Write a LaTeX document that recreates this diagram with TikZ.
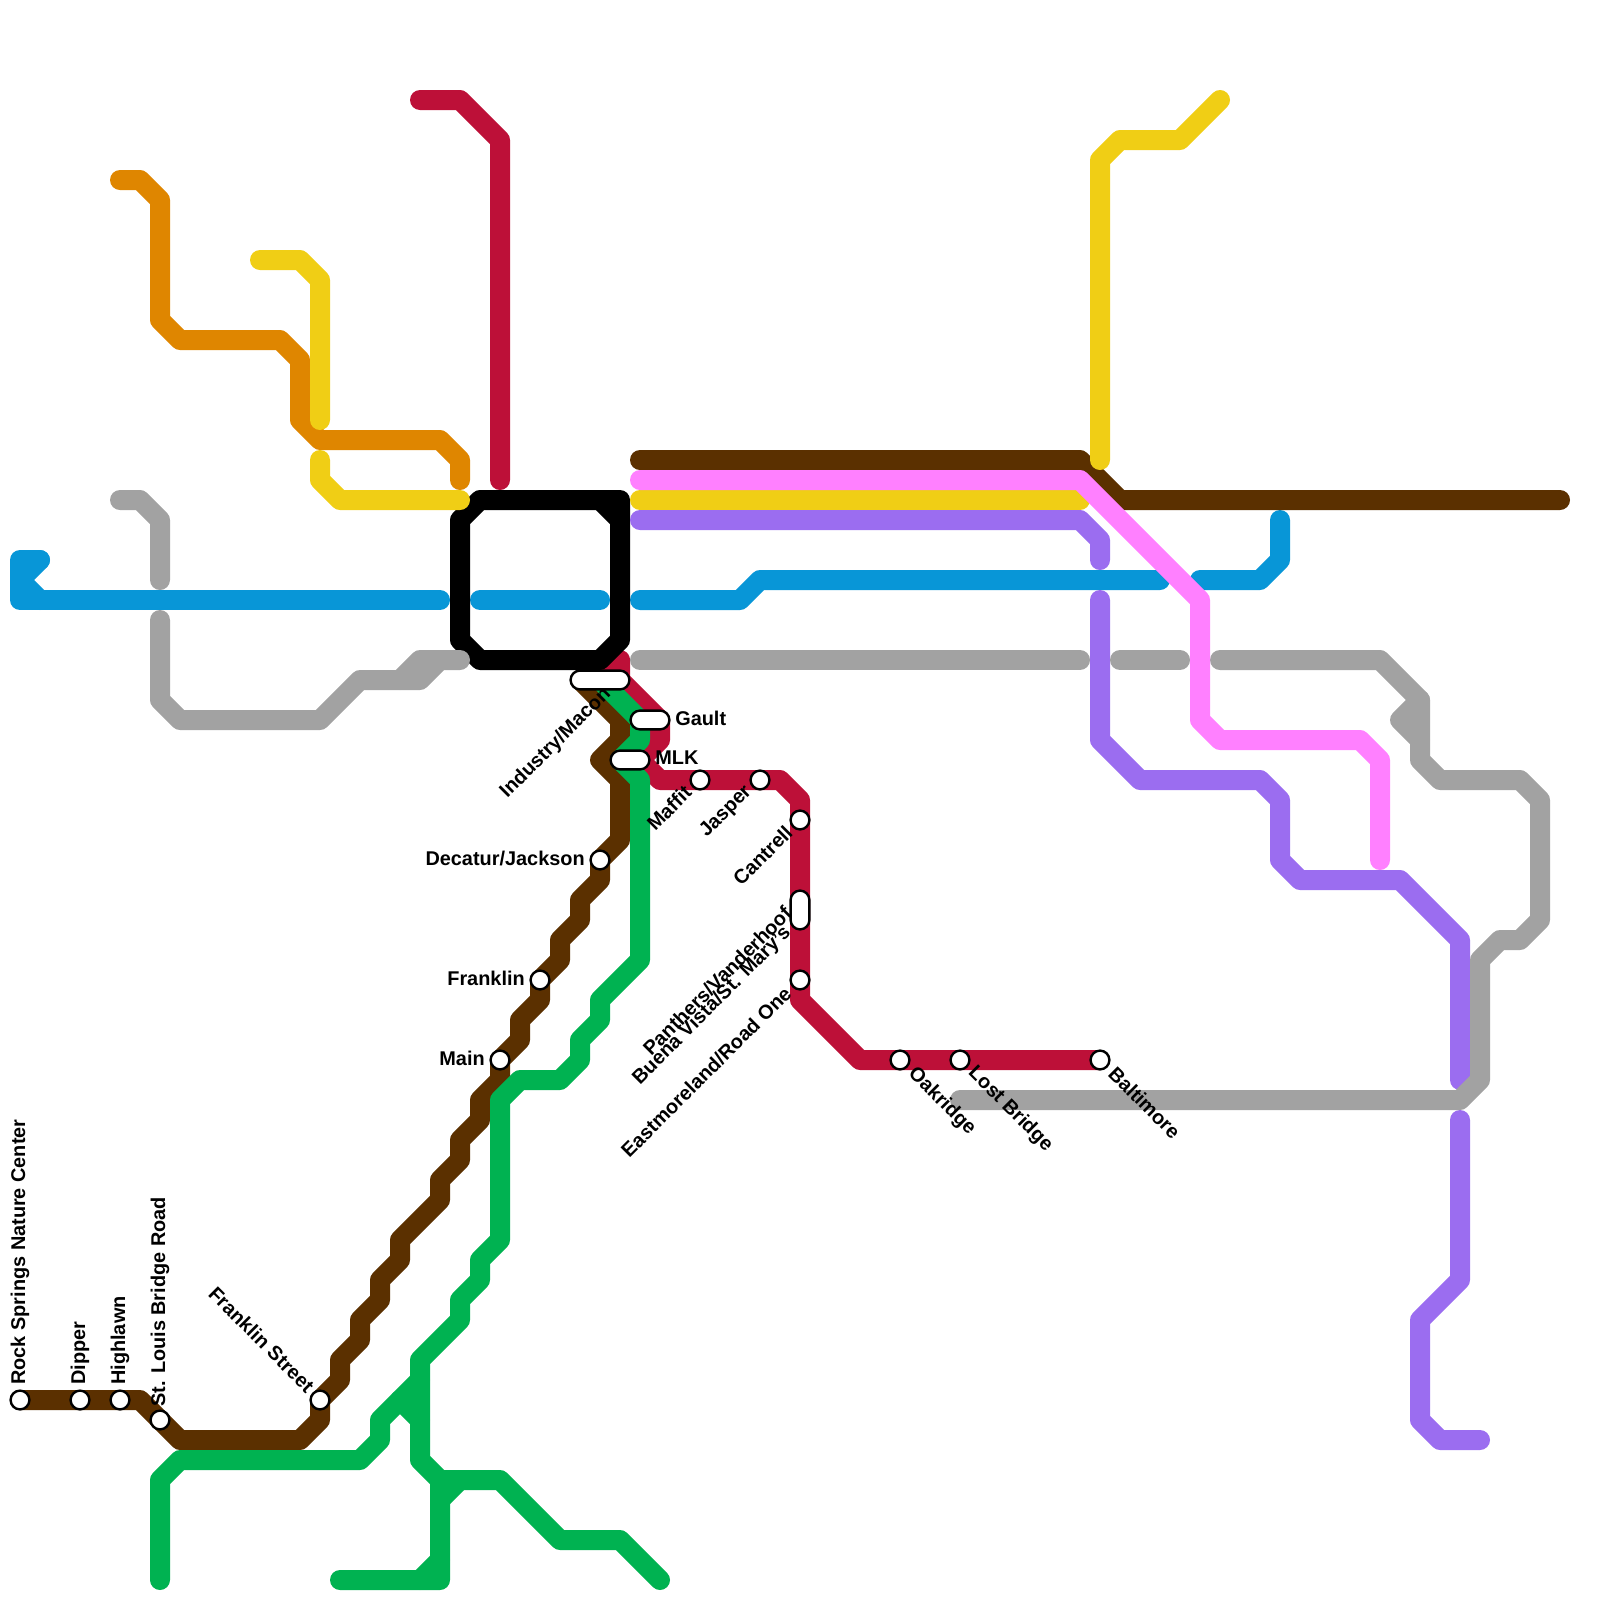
\documentclass[tikz,border=0pt]{standalone}
\usepackage{fontspec}
\setmainfont{Liberation Sans}
\usetikzlibrary{calc}
\usetikzlibrary{shapes.misc}
\definecolor{lineblue}{HTML}{0896D7}
\definecolor{linered}{HTML}{BD1038}
\definecolor{linebrown}{HTML}{5B3000}
\definecolor{linegreen}{HTML}{00B251}
\definecolor{linepurple}{HTML}{9B6DF0}
\definecolor{linegray}{HTML}{A2A2A2}
\definecolor{lineyellow}{HTML}{F0CE15}
\definecolor{lineorange}{HTML}{DF8600}
\definecolor{linepink}{HTML}{FF80FF}

\begin{document}
\begin{tikzpicture}[
    x=0.5cm, y=-0.5cm,
    route/.style={line width=0.5cm, line cap=round, line join=round},
    stop/.style={circle, draw=black, fill=white, line width=1.7pt, inner sep=0pt, minimum size=0.47cm},
    pill/.style={rounded rectangle, draw=black, fill=white, line width=1.7pt, inner sep=0pt, minimum width=0.97cm, minimum height=0.47cm},
    lbl/.style={font=\fontsize{14.15}{14.15}\selectfont\bfseries, inner sep=0pt}
]
    \useasboundingbox (0,0) rectangle (80,80);

    % blue
    \draw[route, lineblue] (2,28) -- (1,28) -- (1,30) -- (22,30);
    \draw[route, lineblue] (2,28) -- (1,29) -- (2,30);
    \draw[route, lineblue] (24,30) -- (30,30);
    \draw[route, lineblue] (32,30) -- (37,30) -- (38,29) -- (58,29);
    \draw[route, lineblue] (60,29) -- (63,29) -- (64,28) -- (64,26);

    % red
    \draw[route, linered] (21,5) -- (23,5) -- (25,7) -- (25,24);
    \draw[route, linered] (30,34) -- (31,33) -- (31,34) -- (33,36) -- (33,37) -- (32,38) -- (33,39)
        -- (39,39) -- (40,40) -- (40,50) -- (43,53) -- (55,53);

    % black loop
    \draw[route, black] (24,25) -- (31,25) -- (31,32) -- (30,33) -- (24,33) -- (23,32) -- (23,26) -- cycle;
    \draw[route, black] (30,25) -- (31,26);

    % brown
    \draw[route, linebrown] (1,70) -- (7,70) -- (9,72) -- (15,72) -- (16,71) -- (16,70) -- (17,69) -- (17,68)
        -- (18,67) -- (18,66) -- (19,65) -- (19,64) -- (20,63) -- (20,62) -- (22,60) -- (22,59) -- (23,58)
        -- (23,57) -- (24,56) -- (24,55) -- (25,54) -- (25,53) -- (26,52) -- (26,51) -- (27,50) -- (27,49)
        -- (28,48) -- (28,47) -- (29,46) -- (29,45) -- (30,44) -- (30,43) -- (31,42) -- (31,39) -- (30,38)
        -- (31,37) -- (31,36) -- (29,34);
    \draw[route, linebrown] (32,23) -- (54,23) -- (56,25) -- (78,25);

    % green
    \draw[route, linegreen] (8,79) -- (8,74) -- (9,73) -- (18,73) -- (19,72) -- (19,71) -- (21,69);
    \draw[route, linegreen] (20,70) -- (21,71);
    \draw[route, linegreen] (17,79) -- (22,79) -- (22,74) -- (21,73) -- (21,68) -- (23,66) -- (23,65) -- (24,64)
        -- (24,63) -- (25,62) -- (25,55) -- (26,54) -- (28,54) -- (29,53) -- (29,52) -- (30,51) -- (30,50)
        -- (32,48) -- (32,39) -- (31,38) -- (32,37) -- (32,36) -- (30,34);
    \draw[route, linegreen] (21,79) -- (22,78);
    \draw[route, linegreen] (22,74) -- (25,74) -- (28,77) -- (31,77) -- (33,79);
    \draw[route, linegreen] (22,75) -- (23,74);

    % purple
    \draw[route, linepurple] (32,26) -- (54,26) -- (55,27) -- (55,28);
    \draw[route, linepurple] (55,30) -- (55,37) -- (57,39) -- (63,39) -- (64,40) -- (64,43) -- (65,44) -- (70,44)
        -- (73,47) -- (73,54);
    \draw[route, linepurple] (73,56) -- (73,64) -- (71,66) -- (71,71) -- (72,72) -- (74,72);

    % gray
    \draw[route, linegray] (6,25) -- (7,25) -- (8,26) -- (8,29);
    \draw[route, linegray] (8,31) -- (8,35) -- (9,36) -- (16,36) -- (18,34) -- (21,34) -- (22,33) -- (23,33);
    \draw[route, linegray] (20,34) -- (21,33) -- (22,33);
    \draw[route, linegray] (32,33) -- (54,33);
    \draw[route, linegray] (56,33) -- (59,33);
    \draw[route, linegray] (61,33) -- (69,33) -- (71,35) -- (71,38) -- (72,39) -- (76,39) -- (77,40) -- (77,46)
        -- (76,47) -- (75,47) -- (74,48) -- (74,54) -- (73,55) -- (48,55);
    \draw[route, linegray] (71,35) -- (70,36) -- (71,37);

    % orange
    \draw[route, lineorange] (6,9) -- (7,9) -- (8,10) -- (8,16) -- (9,17) -- (14,17) -- (15,18) -- (15,21) -- (16,22)
        -- (22,22) -- (23,23) -- (23,24);

    % yellow
    \draw[route, lineyellow] (13,13) -- (15,13) -- (16,14) -- (16,21);
    \draw[route, lineyellow] (16,23) -- (16,24) -- (17,25) -- (23,25);
    \draw[route, lineyellow] (32,25) -- (54,25);
    \draw[route, lineyellow] (55,23) -- (55,8) -- (56,7) -- (59,7) -- (61,5);

    % pink
    \draw[route, linepink] (32,24) -- (54,24) -- (60,30) -- (60,36) -- (61,37) -- (68,37) -- (69,38) -- (69,43);

    % stations
    \node[stop] (rock) at (1,70) {};
    \node[stop] (dipper) at (4,70) {};
    \node[stop] (highlawn) at (6,70) {};
    \node[stop] (stlouis) at (8,71) {};
    \node[stop] (franklinst) at (16,70) {};
    \node[stop] (main) at (25,53) {};
    \node[stop] (franklin) at (27,49) {};
    \node[stop] (decatur) at (30,43) {};
    \node[pill, minimum width=1.47cm] (industry) at (30,34) {};
    \node[pill] (gault) at (32.5,36) {};
    \node[pill] (mlk) at (31.5,38) {};
    \node[stop] (maffit) at (35,39) {};
    \node[stop] (jasper) at (38,39) {};
    \node[stop] (cantrell) at (40,41) {};
    \node[pill, rotate=90] (panthers) at (40,45.5) {};
    \node[stop] (eastmoreland) at (40,49) {};
    \node[stop] (oakridge) at (45,53) {};
    \node[stop] (lostbridge) at (48,53) {};
    \node[stop] (baltimore) at (55,53) {};

    % labels
    \node[lbl, rotate=90, anchor=west] (rock label) at ($(rock)+(0,-0.75)$) {Rock Springs Nature Center};
    \node[lbl, rotate=90, anchor=west] (dipper label) at ($(dipper)+(0,-0.75)$) {Dipper};
    \node[lbl, rotate=90, anchor=west] (highlawn label) at ($(highlawn)+(0,-0.75)$) {Highlawn};
    \node[lbl, rotate=90, anchor=west] (stlouis label) at ($(stlouis)+(0,-0.65)$) {St. Louis Bridge Road};
    \node[lbl, rotate=-45, anchor=east] (franklinst label) at ($(franklinst)+(-0.45,-0.55)$) {Franklin Street};
    \node[lbl, anchor=east] (main label) at ($(main)+(-0.75,-0.1)$) {Main};
    \node[lbl, anchor=east] (franklin label) at ($(franklin)+(-0.75,-0.1)$) {Franklin};
    \node[lbl, anchor=east] (decatur label) at ($(decatur)+(-0.75,-0.1)$) {Decatur/Jackson};
    \node[lbl, rotate=45, anchor=east] (industry label) at ($(industry)+(0.4,0.55)$) {Industry/Macon};
    \node[lbl, anchor=west] (gault label) at ($(gault)+(1.25,-0.1)$) {Gault};
    \node[lbl, anchor=west] (mlk label) at ($(mlk)+(1.25,-0.1)$) {MLK};
    \node[lbl, rotate=45, anchor=east] (maffit label) at ($(maffit)+(-0.6,0.45)$) {Maffit};
    \node[lbl, rotate=45, anchor=east] (jasper label) at ($(jasper)+(-0.55,0.45)$) {Jasper};
    \node[lbl, rotate=45, anchor=east] (cantrell label) at ($(cantrell)+(-0.55,0.45)$) {Cantrell};
    \node[lbl, rotate=45, anchor=east] (panthers label) at ($(panthers)+(-0.6,0)$) {Panthers/Vanderhoof};
    \node[lbl, rotate=45, anchor=east] (buena label) at ($(panthers)+(-0.6,1)$) {Buena Vista/St. Mary's};
    \node[lbl, rotate=45, anchor=east] (eastmoreland label) at ($(eastmoreland)+(-0.6,0.5)$) {Eastmoreland/Road One};
    \node[lbl, rotate=-45, anchor=west] (oakridge label) at ($(oakridge)+(0.55,0.55)$) {Oakridge};
    \node[lbl, rotate=-45, anchor=west] (lostbridge label) at ($(lostbridge)+(0.55,0.5)$) {Lost Bridge};
    \node[lbl, rotate=-45, anchor=west] (baltimore label) at ($(baltimore)+(0.6,0.5)$) {Baltimore};
\end{tikzpicture}
\end{document}
